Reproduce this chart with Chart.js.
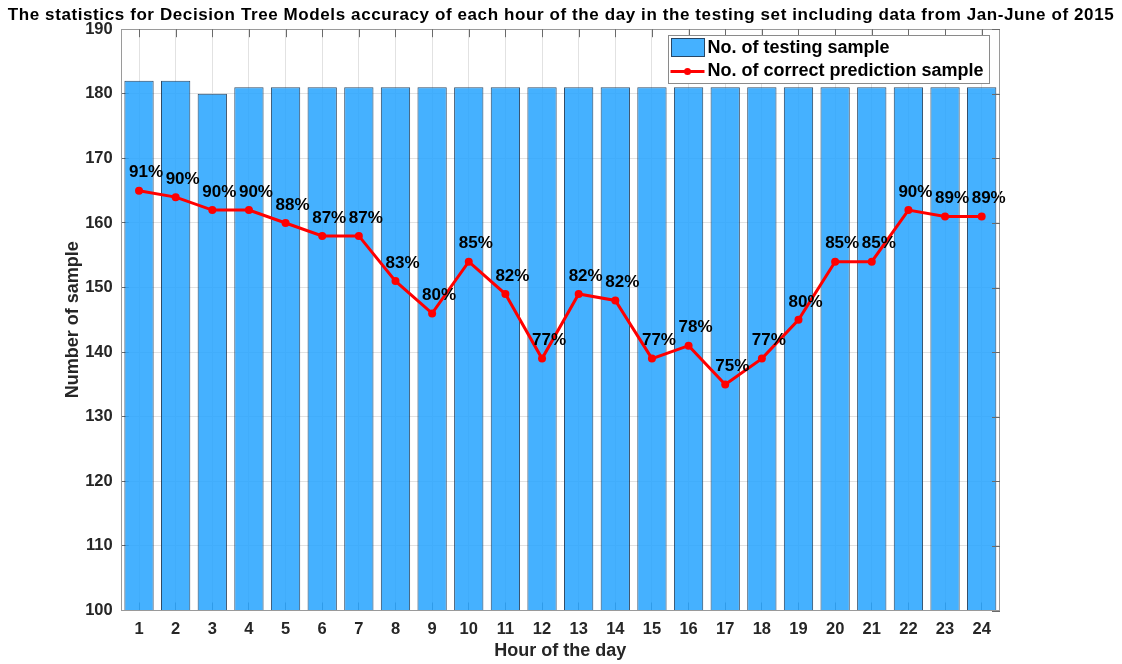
<!DOCTYPE html>
<html>
<head>
<meta charset="utf-8">
<script src="https://cdn.jsdelivr.net/npm/chart.js@4.4.1/dist/chart.umd.min.js"></script>
<style>
	html, body { margin: 0; padding: 0; background: #fff; }
	canvas { display: block; }
</style>
</head>
<body>
<canvas id="chart" width="1122" height="664"></canvas>
<script>
// hour of the day (x tick labels)
var hours = ['1', '2', '3', '4', '5', '6', '7', '8', '9', '10', '11', '12',
	'13', '14', '15', '16', '17', '18', '19', '20', '21', '22', '23', '24'];

// samples in the testing set per hour
var testingSamples = [182, 182, 180, 181, 181, 181, 181, 181, 181, 181, 181, 181,
	181, 181, 181, 181, 181, 181, 181, 181, 181, 181, 181, 181];

// correctly predicted samples per hour
var correctSamples = [165, 164, 162, 162, 160, 158, 158, 151, 146, 154, 149, 139,
	149, 148, 139, 141, 135, 139, 145, 154, 154, 162, 161, 161];

// accuracy text shown next to each point
var accuracyLabels = ['91%', '90%', '90%', '90%', '88%', '87%', '87%', '83%', '80%', '85%', '82%', '77%',
	'82%', '82%', '77%', '78%', '75%', '77%', '80%', '85%', '85%', '90%', '89%', '89%'];

// y axis range
var yMin = 100;
var yMax = 190;
var yStep = 10;

var chartTitle = 'The statistics for Decision Tree Models accuracy of each hour of the day in the testing set including data from Jan-June of 2015';

var FONT = '"Liberation Sans", Arial, Helvetica, sans-serif';
var BAR_FILL = 'rgba(36, 163, 255, 0.85)';
var BAR_EDGE = 'rgba(25, 55, 85, 0.9)';
var LINE_RED = '#ff0000';
var AXIS_TEXT = '#262626';
var GRID = '#e2e2e2';
var TICK = '#6a6a6a';

var ctx = document.querySelector('#chart').getContext('2d');

//wide bold title across the whole canvas (space kept by layout.padding.top)
var wideTitle = {
	id: 'wideTitle',
	afterDraw(chart) {
		var c = chart.ctx;
		c.save();
		c.font = 'bold 17px ' + FONT;
		c.letterSpacing = '0.6px';
		c.fillStyle = '#000';
		c.textAlign = 'center';
		c.textBaseline = 'middle';
		c.fillText(chartTitle, chart.width / 2, 15);
		c.restore();
	}
};

//percent text above-right of every point of the line
var pointLabels = {
	id: 'pointLabels',
	afterDatasetsDraw(chart) {
		var meta = chart.getDatasetMeta(1);
		var c = chart.ctx;
		c.save();
		c.font = 'bold 17px ' + FONT;
		c.fillStyle = '#000';
		c.textAlign = 'left';
		c.textBaseline = 'middle';
		meta.data.forEach((pt, i) => {
			c.fillText(accuracyLabels[i], pt.x - 10, pt.y - 18);
		});
		c.restore();
	}
};

//frame round the plot area + legend box in the top right corner
var boxLegend = {
	id: 'boxLegend',
	afterDraw(chart) {
		var c = chart.ctx;
		var area = chart.chartArea;
		c.save();

		c.strokeStyle = '#9a9a9a';
		c.lineWidth = 1;
		c.strokeRect(Math.round(area.left) + 0.5, Math.round(area.top) + 0.5,
			Math.round(area.width) - 1, Math.round(area.height));

		// small inward ticks on the top and right edges
		var xs = chart.scales.x, ys = chart.scales.y;
		c.strokeStyle = TICK;
		c.beginPath();
		xs.ticks.forEach((t, i) => {
			var px = Math.round(xs.getPixelForTick(i)) + 0.5;
			c.moveTo(px, area.top);
			c.lineTo(px, area.top + 8);
		});
		ys.ticks.forEach((t, i) => {
			var py = Math.round(ys.getPixelForTick(i)) + 0.5;
			c.moveTo(area.right, py);
			c.lineTo(area.right - 8, py);
		});
		c.stroke();

		var sets = chart.data.datasets;
		c.font = 'bold 18px ' + FONT;
		var textW = Math.max(...sets.map(d => c.measureText(d.label).width));
		var w = Math.round(39 + textW + 6);
		var h = 48;
		var x = Math.round(area.right - 11 - w) + 0.5;
		var y = Math.round(area.top + 6) + 0.5;

		c.fillStyle = '#fff';
		c.fillRect(x, y, w, h);
		c.strokeStyle = '#8a8a8a';
		c.strokeRect(x, y, w, h);

		// bar swatch
		c.fillStyle = '#45b1ff';
		c.fillRect(x + 3, y + 3, 33, 18);
		c.strokeStyle = BAR_EDGE;
		c.strokeRect(x + 3, y + 3, 33, 18);

		// line swatch with marker
		c.strokeStyle = LINE_RED;
		c.lineWidth = 3;
		c.beginPath();
		c.moveTo(x + 2, y + 36);
		c.lineTo(x + 36, y + 36);
		c.stroke();
		c.fillStyle = LINE_RED;
		c.beginPath();
		c.arc(x + 19, y + 36, 3.5, 0, Math.PI * 2);
		c.fill();

		c.fillStyle = '#000';
		c.textAlign = 'left';
		c.textBaseline = 'middle';
		c.fillText(sets[0].label, x + 39, y + 13);
		c.fillText(sets[1].label, x + 39, y + 36);
		c.restore();
	}
};

var data = {
	labels: hours,
	datasets: [{
		type: 'bar',
		label: 'No. of testing sample',
		data: testingSamples,
		backgroundColor: BAR_FILL,
		borderColor: BAR_EDGE,
		borderWidth: 1,
		barPercentage: 0.8,
		categoryPercentage: 1.0,
		order: 1
	}, {
		type: 'line',
		label: 'No. of correct prediction sample',
		data: correctSamples,
		borderColor: LINE_RED,
		backgroundColor: LINE_RED,
		borderWidth: 3,
		pointRadius: 4,
		pointBorderWidth: 0,
		tension: 0,
		fill: false,
		order: 0
	}]
};

var config = {
	type: 'bar',
	data,
	options: {
		responsive: false,
		animation: false,
		layout: {
			padding: { left: 62, right: 122, top: 29.2, bottom: 0 }
		},
		plugins: {
			legend: { display: false },
			tooltip: { enabled: false },
			title: { display: false }
		},
		scales: {
			x: {
				// negative tick length puts the tick marks inside the plot
				grid: { color: GRID, tickColor: TICK, tickLength: -8, offset: false },
				border: { display: false },
				ticks: {
					color: AXIS_TEXT,
					padding: 17,
					autoSkip: false,
					maxRotation: 0,
					font: { family: FONT, size: 16.5, weight: 'bold' }
				},
				title: {
					display: true,
					text: 'Hour of the day',
					color: AXIS_TEXT,
					font: { family: FONT, size: 18, weight: 'bold' },
					padding: { top: 0, bottom: 2 }
				},
				afterFit: function(axis) { axis.height = 53.5; }
			},
			y: {
				min: yMin,
				max: yMax,
				grid: { color: GRID, tickColor: TICK, tickLength: -8 },
				border: { display: false },
				ticks: {
					stepSize: yStep,
					color: AXIS_TEXT,
					padding: 16,
					font: { family: FONT, size: 16.5, weight: 'bold' }
				},
				title: {
					display: true,
					text: 'Number of sample',
					color: AXIS_TEXT,
					font: { family: FONT, size: 18, weight: 'bold' },
					padding: 0
				},
				afterFit: function(axis) { axis.width = 58.7; }
			}
		}
	},
	plugins: [pointLabels, boxLegend, wideTitle]
};

var myChart = new Chart(ctx, config);
</script>
</body>
</html>
